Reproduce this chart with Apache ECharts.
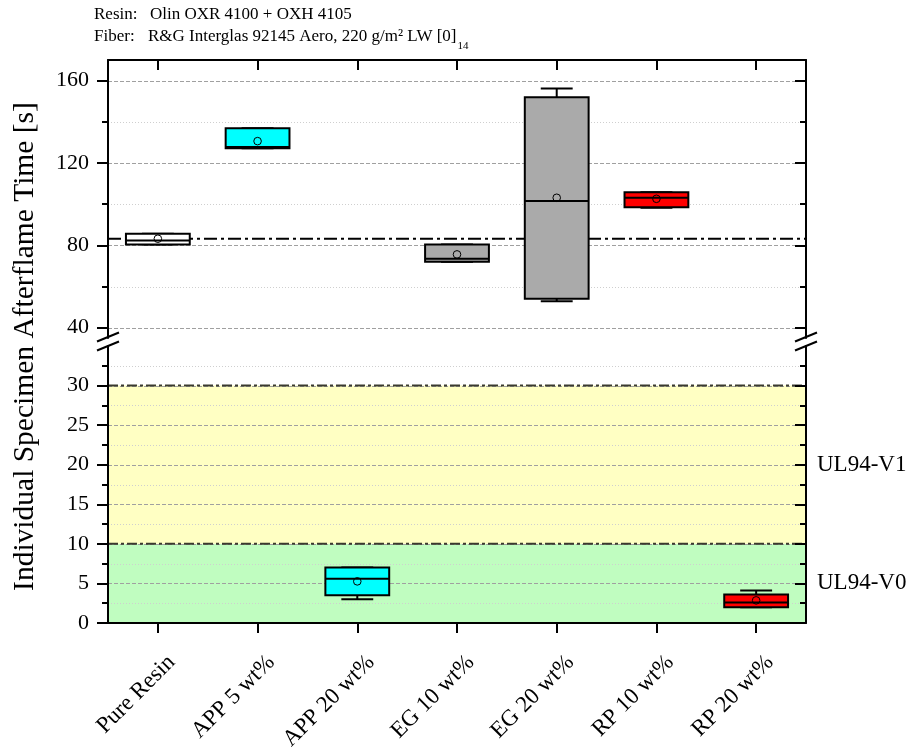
<!DOCTYPE html>
<html>
<head>
<meta charset="utf-8">
<script src="https://cdn.jsdelivr.net/npm/echarts@6/dist/echarts.min.js"></script>
<style>
  html, body { margin: 0; padding: 0; background: #ffffff; }
  #chart { width: 911px; height: 747px; }
</style>
</head>
<body>
<div id="chart"></div>
<script>
// ---- data ---------------------------------------------------------------
const categories = ['Pure Resin', 'APP 5 wt%', 'APP 20 wt%', 'EG 10 wt%', 'EG 20 wt%', 'RP 10 wt%', 'RP 20 wt%'];
const minVals    = [80.4, 127.1, 3.0, 72.0,  52.9,  98.3, 2.0];
const q1Vals     = [80.4, 127.1, 3.5, 72.0,  54.1,  98.5, 2.0];
const medianVals = [82.4, 127.8, 5.6, 73.5, 101.5, 103.1, 2.6];
const q3Vals     = [85.6, 136.9, 7.0, 80.4, 151.9, 105.8, 3.6];
const maxVals    = [85.6, 136.9, 7.0, 80.4, 156.2, 105.8, 4.1];
const meanVals   = [83.2, 130.6, 5.26, 75.6, 103.1, 102.6, 2.86];

// broken y axis: upper and lower ranges with their tick values
const upperRange = [35, 170];
const lowerRange = [0, 35];
const upperMajorTicks = [40, 80, 120, 160];
const upperMinorTicks = [60, 100, 140];
const lowerMajorTicks = [0, 5, 10, 15, 20, 25, 30];
const lowerMinorTicks = [2.5, 7.5, 12.5, 17.5, 22.5, 27.5, 32.5];

// UL94 rating bands (afterflame time limits)
const bandNames = ['UL94-V0', 'UL94-V1'];
const bandFrom  = [0, 10];
const bandTo    = [10, 30];

const headerResin = 'Olin OXR 4100 + OXH 4105';
const headerFiber = 'R&G Interglas 92145 Aero, 220 g/m² LW [0]';
const headerFiberSub = '14';
const yTitle = 'Individual Specimen Afterflame Time [s]';

// ---- styles -------------------------------------------------------------
const FONT = '"Liberation Serif", "Times New Roman", serif';
const boxColors = ['#ffffff', '#00ffff', '#00ffff', '#aaaaaa', '#aaaaaa', '#ff0000', '#ff0000'];
const bandColors = ['#c0fdc0', '#ffffc3'];
const BOX_RATIO = 0.64;
const GRID_LEFT = 108, GRID_RIGHT = 105;
const UPPER_TOP = 60, UPPER_H = 278;
const LOWER_TOP = 346, LOWER_H = 277;

const MAJOR_GRID = { stroke: '#a0a0a0', lineWidth: 1, lineDash: [4, 2] };
const MINOR_GRID = { stroke: '#cfcfcf', lineWidth: 1, lineDash: [1, 2] };

// ---- render helpers ------------------------------------------------------
function renderBox(params, api) {
  const cat = api.value(0);
  const pMin = api.coord([cat, api.value(1)]);
  const pQ1 = api.coord([cat, api.value(2)]);
  const pMed = api.coord([cat, api.value(3)]);
  const pQ3 = api.coord([cat, api.value(4)]);
  const pMax = api.coord([cat, api.value(5)]);
  const pMean = api.coord([cat, api.value(6)]);
  const bw = api.size([1, 0])[0] * BOX_RATIO;
  const cx = pMin[0];
  const stroke = { stroke: '#000', lineWidth: 2 };
  return {
    type: 'group',
    children: [
      { type: 'line', shape: { x1: cx, y1: pQ3[1], x2: cx, y2: pMax[1] }, style: stroke },
      { type: 'line', shape: { x1: cx - bw / 4, y1: pMax[1], x2: cx + bw / 4, y2: pMax[1] }, style: stroke },
      { type: 'line', shape: { x1: cx, y1: pQ1[1], x2: cx, y2: pMin[1] }, style: stroke },
      { type: 'line', shape: { x1: cx - bw / 4, y1: pMin[1], x2: cx + bw / 4, y2: pMin[1] }, style: stroke },
      { type: 'rect', shape: { x: cx - bw / 2, y: pQ3[1], width: bw, height: pQ1[1] - pQ3[1] },
        style: { fill: boxColors[cat], stroke: '#000', lineWidth: 2 } },
      { type: 'line', shape: { x1: cx - bw / 2, y1: pMed[1], x2: cx + bw / 2, y2: pMed[1] }, style: stroke },
      { type: 'circle', shape: { cx: cx, cy: pMean[1], r: 3.8 }, style: { fill: 'none', stroke: '#000', lineWidth: 1 } }
    ]
  };
}

function renderGridLine(params, api) {
  const cs = params.coordSys;
  const y = Math.round(api.coord([0, api.value(1)])[1]) + 0.5;
  return {
    type: 'line',
    shape: { x1: cs.x, y1: y, x2: cs.x + cs.width, y2: y },
    style: api.value(2) === 1 ? MINOR_GRID : MAJOR_GRID
  };
}

function renderBand(params, api) {
  const cs = params.coordSys;
  const idx = api.value(3);
  const yFrom = api.coord([0, api.value(1)])[1];
  const yTo = api.coord([0, api.value(2)])[1];
  return {
    type: 'group',
    children: [
      { type: 'rect', shape: { x: cs.x, y: yTo, width: cs.width, height: yFrom - yTo },
        style: { fill: bandColors[idx] } },
      { type: 'text', x: cs.x + cs.width + 11, y: (yFrom + yTo) / 2,
        style: { text: bandNames[idx], font: '23px ' + FONT, fill: '#000', align: 'left', verticalAlign: 'middle' } }
    ]
  };
}

// dashed limit line on the upper edge of each rating band
function renderBandLimit(params, api) {
  const cs = params.coordSys;
  const y = api.coord([0, api.value(2)])[1];
  return {
    type: 'line',
    shape: { x1: cs.x, y1: y, x2: cs.x + cs.width, y2: y },
    style: { stroke: '#3a3a2e', lineWidth: 2, lineDash: [10, 3, 3, 3] }
  };
}

function renderRefLine(params, api) {
  const cs = params.coordSys;
  const y = api.coord([0, api.value(1)])[1];
  return {
    type: 'line',
    shape: { x1: cs.x, y1: y, x2: cs.x + cs.width, y2: y },
    style: { stroke: '#000', lineWidth: 2, lineDash: [13, 4, 3, 4] }
  };
}

// ---- build series data ---------------------------------------------------
const boxItems = categories.map((c, i) => [i, minVals[i], q1Vals[i], medianVals[i], q3Vals[i], maxVals[i], meanVals[i]]);
const upperBoxes = boxItems.filter(d => d[4] > upperRange[0]);
const lowerBoxes = boxItems.filter(d => d[4] <= upperRange[0]);

function gridLineItems(major, minor, min) {
  return major.filter(v => v > min).map(v => [0, v, 0]).concat(minor.map(v => [0, v, 1]));
}
const bandItems = bandNames.map((n, i) => [0, bandFrom[i], bandTo[i], i]);

// ---- axes --------------------------------------------------------------
function yAxes(gridIndex, range, major, minor, withLabels) {
  const base = { type: 'value', gridIndex: gridIndex, min: range[0], max: range[1], splitLine: { show: false }, z: 20 };
  const line = { show: true, lineStyle: { color: '#000', width: 2 } };
  const tickStyle = { color: '#000', width: 2 };
  return [
    Object.assign({}, base, { position: 'left', axisLine: line,
      axisTick: { show: true, inside: false, length: 11, lineStyle: tickStyle, customValues: major },
      axisLabel: { show: withLabels, customValues: major, margin: 19, fontSize: 22, fontFamily: FONT, color: '#000' } }),
    Object.assign({}, base, { position: 'left', axisLine: { show: false },
      axisTick: { show: true, inside: false, length: 6, lineStyle: tickStyle, customValues: minor },
      axisLabel: { show: false } }),
    Object.assign({}, base, { position: 'right', axisLine: line,
      axisTick: { show: true, inside: true, length: 11, lineStyle: tickStyle, customValues: major },
      axisLabel: { show: false } }),
    Object.assign({}, base, { position: 'right', axisLine: { show: false },
      axisTick: { show: true, inside: true, length: 6, lineStyle: tickStyle, customValues: minor },
      axisLabel: { show: false } })
  ];
}

const chart = echarts.init(document.getElementById('chart'), null, { renderer: 'canvas' });

// subscript placement after the fiber description
const measureCtx = document.createElement('canvas').getContext('2d');
measureCtx.font = '17px ' + FONT;
const fiberWidth = measureCtx.measureText(headerFiber).width;

// axis-break marks on both sides of the plot
const breakMarks = [];
[GRID_LEFT, 911 - GRID_RIGHT].forEach(x => {
  [UPPER_TOP + UPPER_H - 1, LOWER_TOP].forEach(y => {
    breakMarks.push({ type: 'line', shape: { x1: x - 11, y1: y + 4.5, x2: x + 11, y2: y - 4.5 },
      style: { stroke: '#000', lineWidth: 2 }, z: 30 });
  });
});

const option = {
  animation: false,
  backgroundColor: '#ffffff',
  grid: [
    { left: GRID_LEFT, right: GRID_RIGHT, top: UPPER_TOP, height: UPPER_H, outerBoundsMode: 'none', containLabel: false },
    { left: GRID_LEFT, right: GRID_RIGHT, top: LOWER_TOP, height: LOWER_H, outerBoundsMode: 'none', containLabel: false }
  ],
  xAxis: [
    { type: 'category', gridIndex: 0, data: categories, position: 'top', z: 20,
      axisLine: { show: true, lineStyle: { color: '#000', width: 2 } },
      axisTick: { show: true, inside: true, alignWithLabel: true, interval: 0, length: 10, lineStyle: { color: '#000', width: 2 } },
      axisLabel: { show: false }, splitLine: { show: false } },
    { type: 'category', gridIndex: 1, data: categories, position: 'bottom', z: 20,
      axisLine: { show: true, lineStyle: { color: '#000', width: 2 } },
      axisTick: { show: true, inside: false, alignWithLabel: true, interval: 0, length: 10, lineStyle: { color: '#000', width: 2 } },
      axisLabel: { interval: 0, rotate: 45, margin: 15, fontSize: 23, fontFamily: FONT, color: '#000',
        verticalAlign: 'top', padding: [13, 5, 0, 0] },
      splitLine: { show: false } }
  ],
  yAxis: yAxes(0, upperRange, upperMajorTicks, upperMinorTicks, true)
    .concat(yAxes(1, lowerRange, lowerMajorTicks, lowerMinorTicks, true)),
  series: [
    { type: 'custom', name: 'bands', xAxisIndex: 1, yAxisIndex: 4, z: 1, silent: true,
      renderItem: renderBand, data: bandItems },
    { type: 'custom', name: 'grid-upper', xAxisIndex: 0, yAxisIndex: 0, z: 2, silent: true,
      renderItem: renderGridLine, data: gridLineItems(upperMajorTicks, upperMinorTicks, upperRange[0]) },
    { type: 'custom', name: 'grid-lower', xAxisIndex: 1, yAxisIndex: 4, z: 2, silent: true,
      renderItem: renderGridLine, data: gridLineItems(lowerMajorTicks, lowerMinorTicks, lowerRange[0]) },
    { type: 'custom', name: 'band-limits', xAxisIndex: 1, yAxisIndex: 4, z: 3, silent: true,
      renderItem: renderBandLimit, data: bandItems },
    { type: 'custom', name: 'pure-resin-mean', xAxisIndex: 0, yAxisIndex: 0, z: 3, silent: true,
      renderItem: renderRefLine, data: [[0, meanVals[0]]] },
    { type: 'custom', name: 'boxes-upper', xAxisIndex: 0, yAxisIndex: 0, z: 4, silent: true,
      renderItem: renderBox, data: upperBoxes },
    { type: 'custom', name: 'boxes-lower', xAxisIndex: 1, yAxisIndex: 4, z: 4, silent: true,
      renderItem: renderBox, data: lowerBoxes }
  ],
  graphic: [
    { type: 'text', x: 94, y: 15, style: { text: 'Resin:', font: '17px ' + FONT, fill: '#000', verticalAlign: 'middle' } },
    { type: 'text', x: 150, y: 15, style: { text: headerResin, font: '17px ' + FONT, fill: '#000', verticalAlign: 'middle' } },
    { type: 'text', x: 94, y: 37, style: { text: 'Fiber:', font: '17px ' + FONT, fill: '#000', verticalAlign: 'middle' } },
    { type: 'text', x: 148, y: 37, style: { text: headerFiber, font: '17px ' + FONT, fill: '#000', verticalAlign: 'middle' } },
    { type: 'text', x: 148 + fiberWidth + 1, y: 46.5, style: { text: headerFiberSub, font: '11px ' + FONT, fill: '#000', verticalAlign: 'middle' } },
    { type: 'text', x: 25, y: 346.5, rotation: Math.PI / 2,
      style: { text: yTitle, font: '29.5px ' + FONT, fill: '#000', align: 'center', verticalAlign: 'middle' } }
  ].concat(breakMarks)
};

chart.setOption(option);
</script>
</body>
</html>
